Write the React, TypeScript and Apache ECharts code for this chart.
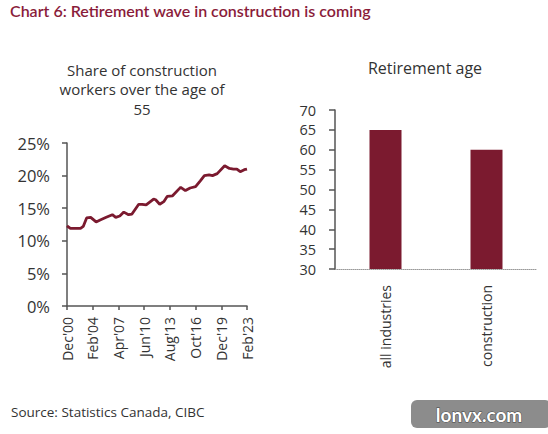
import React, { useEffect, useRef } from "react";
import * as echarts from "echarts";

// Share of construction workers aged 55+, monthly index from Dec 2000 (0) to Feb 2023 (266)
const shareMonths = [0, 5, 20, 24, 29, 35, 43, 49, 58, 67, 72, 78, 84, 91, 96, 106, 111, 117, 128, 131, 137, 143, 148, 156, 166, 168, 175, 182, 190, 197, 203, 210, 215, 222, 233, 240, 246, 251, 256, 262, 266];
const shareValues = [12.3, 11.9, 11.9, 12.2, 13.5, 13.6, 12.9, 13.2, 13.6, 14.0, 13.6, 13.8, 14.4, 14.0, 14.1, 15.6, 15.6, 15.5, 16.4, 16.3, 15.6, 16.0, 16.8, 16.9, 18.0, 18.2, 17.7, 18.1, 18.3, 19.2, 20.0, 20.1, 20.0, 20.3, 21.5, 21.1, 21.0, 21.0, 20.6, 20.9, 21.0];
const shareTickLabels = ["Dec'00", "Feb'04", "Apr'07", "Jun'10", "Aug'13", "Oct'16", "Dec'19", "Feb'23"];
const tickStep = 38;

// Retirement age
const ageCategories = ["all industries", "construction"];
const ageValues = [65, 60];

const MAROON = "#7b1a2f";
const TEXT = "#333333";
const TITLE_FONT = "Lato, 'Noto Sans', sans-serif";
const FONT = "'Open Sans', 'Noto Sans', sans-serif";

export default function App() {
  const ref = useRef<HTMLDivElement>(null);

  useEffect(() => {
    document.body.style.margin = "0";
    if (!ref.current) return;
    const chart = echarts.init(ref.current, null, { renderer: "svg" });
    const lineData = shareMonths.map((m, i) => [m, shareValues[i]]);

    chart.setOption({
      animation: false,
      backgroundColor: "#ffffff",
      textStyle: { fontFamily: FONT },
      graphic: [
        {
          type: "text",
          left: 10,
          top: 2,
          style: {
            text: "Chart 6: Retirement wave in construction is coming",
            fill: "#8a1c3a",
            font: `600 16px ${TITLE_FONT}`,
          },
        },
        {
          type: "text",
          x: 142,
          y: 60,
          style: {
            text: "Share of construction\nworkers over the age of\n55",
            fill: TEXT,
            font: `15px ${FONT}`,
            align: "center",
            lineHeight: 19.5,
          },
        },
        {
          type: "text",
          x: 425,
          y: 60,
          style: {
            text: "Retirement age",
            fill: TEXT,
            font: `16px ${FONT}`,
            align: "center",
          },
        },
        {
          type: "text",
          left: 11,
          top: 405,
          style: {
            text: "Source: Statistics Canada, CIBC",
            fill: TEXT,
            font: `13.5px ${FONT}`,
          },
        },
        {
          type: "rect",
          shape: { x: 411, y: 400, width: 140, height: 28, r: 6 },
          style: { fill: "#8c8c8c" },
        },
        {
          type: "text",
          x: 479,
          y: 414,
          style: {
            text: "lonvx.com",
            fill: "#ffffff",
            font: `bold 19px ${TITLE_FONT}`,
            align: "center",
            verticalAlign: "middle",
            stroke: "#444444",
            lineWidth: 1,
          },
        },
      ],
      grid: [
        { left: 67, right: 301, top: 143, bottom: 128 },
        { left: 335, right: 11, top: 110, bottom: 165 },
      ],
      xAxis: [
        {
          type: "value",
          gridIndex: 0,
          min: 0,
          max: 266,
          interval: tickStep,
          axisLine: { show: true, lineStyle: { color: "#555555", width: 1.5 } },
          axisTick: { show: true, length: 4, lineStyle: { color: "#555555", width: 1.5 } },
          splitLine: { show: false },
          axisLabel: {
            rotate: 90,
            margin: 11,
            color: TEXT,
            fontSize: 14,
            fontFamily: FONT,
            formatter: (v: number) => shareTickLabels[Math.round(v / tickStep)] ?? "",
          },
        },
        {
          type: "category",
          gridIndex: 1,
          data: ageCategories,
          axisLine: { show: true, lineStyle: { color: "#9a9a9a", width: 1, type: "dotted" } },
          axisTick: { show: false },
          axisLabel: {
            rotate: 90,
            margin: 16,
            color: TEXT,
            fontSize: 14,
            fontFamily: FONT,
          },
        },
      ],
      yAxis: [
        {
          type: "value",
          gridIndex: 0,
          min: 0,
          max: 25,
          interval: 5,
          axisLine: { show: true, lineStyle: { color: "#555555", width: 1.5 } },
          axisTick: { show: true, length: 5, lineStyle: { color: "#555555", width: 1.5 } },
          splitLine: { show: false },
          axisLabel: {
            margin: 17,
            color: TEXT,
            fontSize: 16.5,
            fontFamily: FONT,
            formatter: "{value}%",
          },
        },
        {
          type: "value",
          gridIndex: 1,
          min: 30,
          max: 70,
          interval: 5,
          axisLine: { show: true, lineStyle: { color: "#555555", width: 1.5 } },
          axisTick: { show: true, length: 6, lineStyle: { color: "#555555", width: 1.5 } },
          splitLine: { show: false },
          axisLabel: {
            margin: 19,
            color: TEXT,
            fontSize: 14.5,
            lineHeight: 15,
            fontFamily: FONT,
          },
        },
      ],
      series: [
        {
          type: "line",
          xAxisIndex: 0,
          yAxisIndex: 0,
          data: lineData,
          showSymbol: false,
          lineStyle: { color: MAROON, width: 2.8 },
        },
        {
          type: "bar",
          xAxisIndex: 1,
          yAxisIndex: 1,
          data: ageValues,
          barWidth: 32,
          itemStyle: { color: MAROON },
        },
      ],
    });

    return () => chart.dispose();
  }, []);

  return <div ref={ref} style={{ width: 548, height: 434 }} />;
}
